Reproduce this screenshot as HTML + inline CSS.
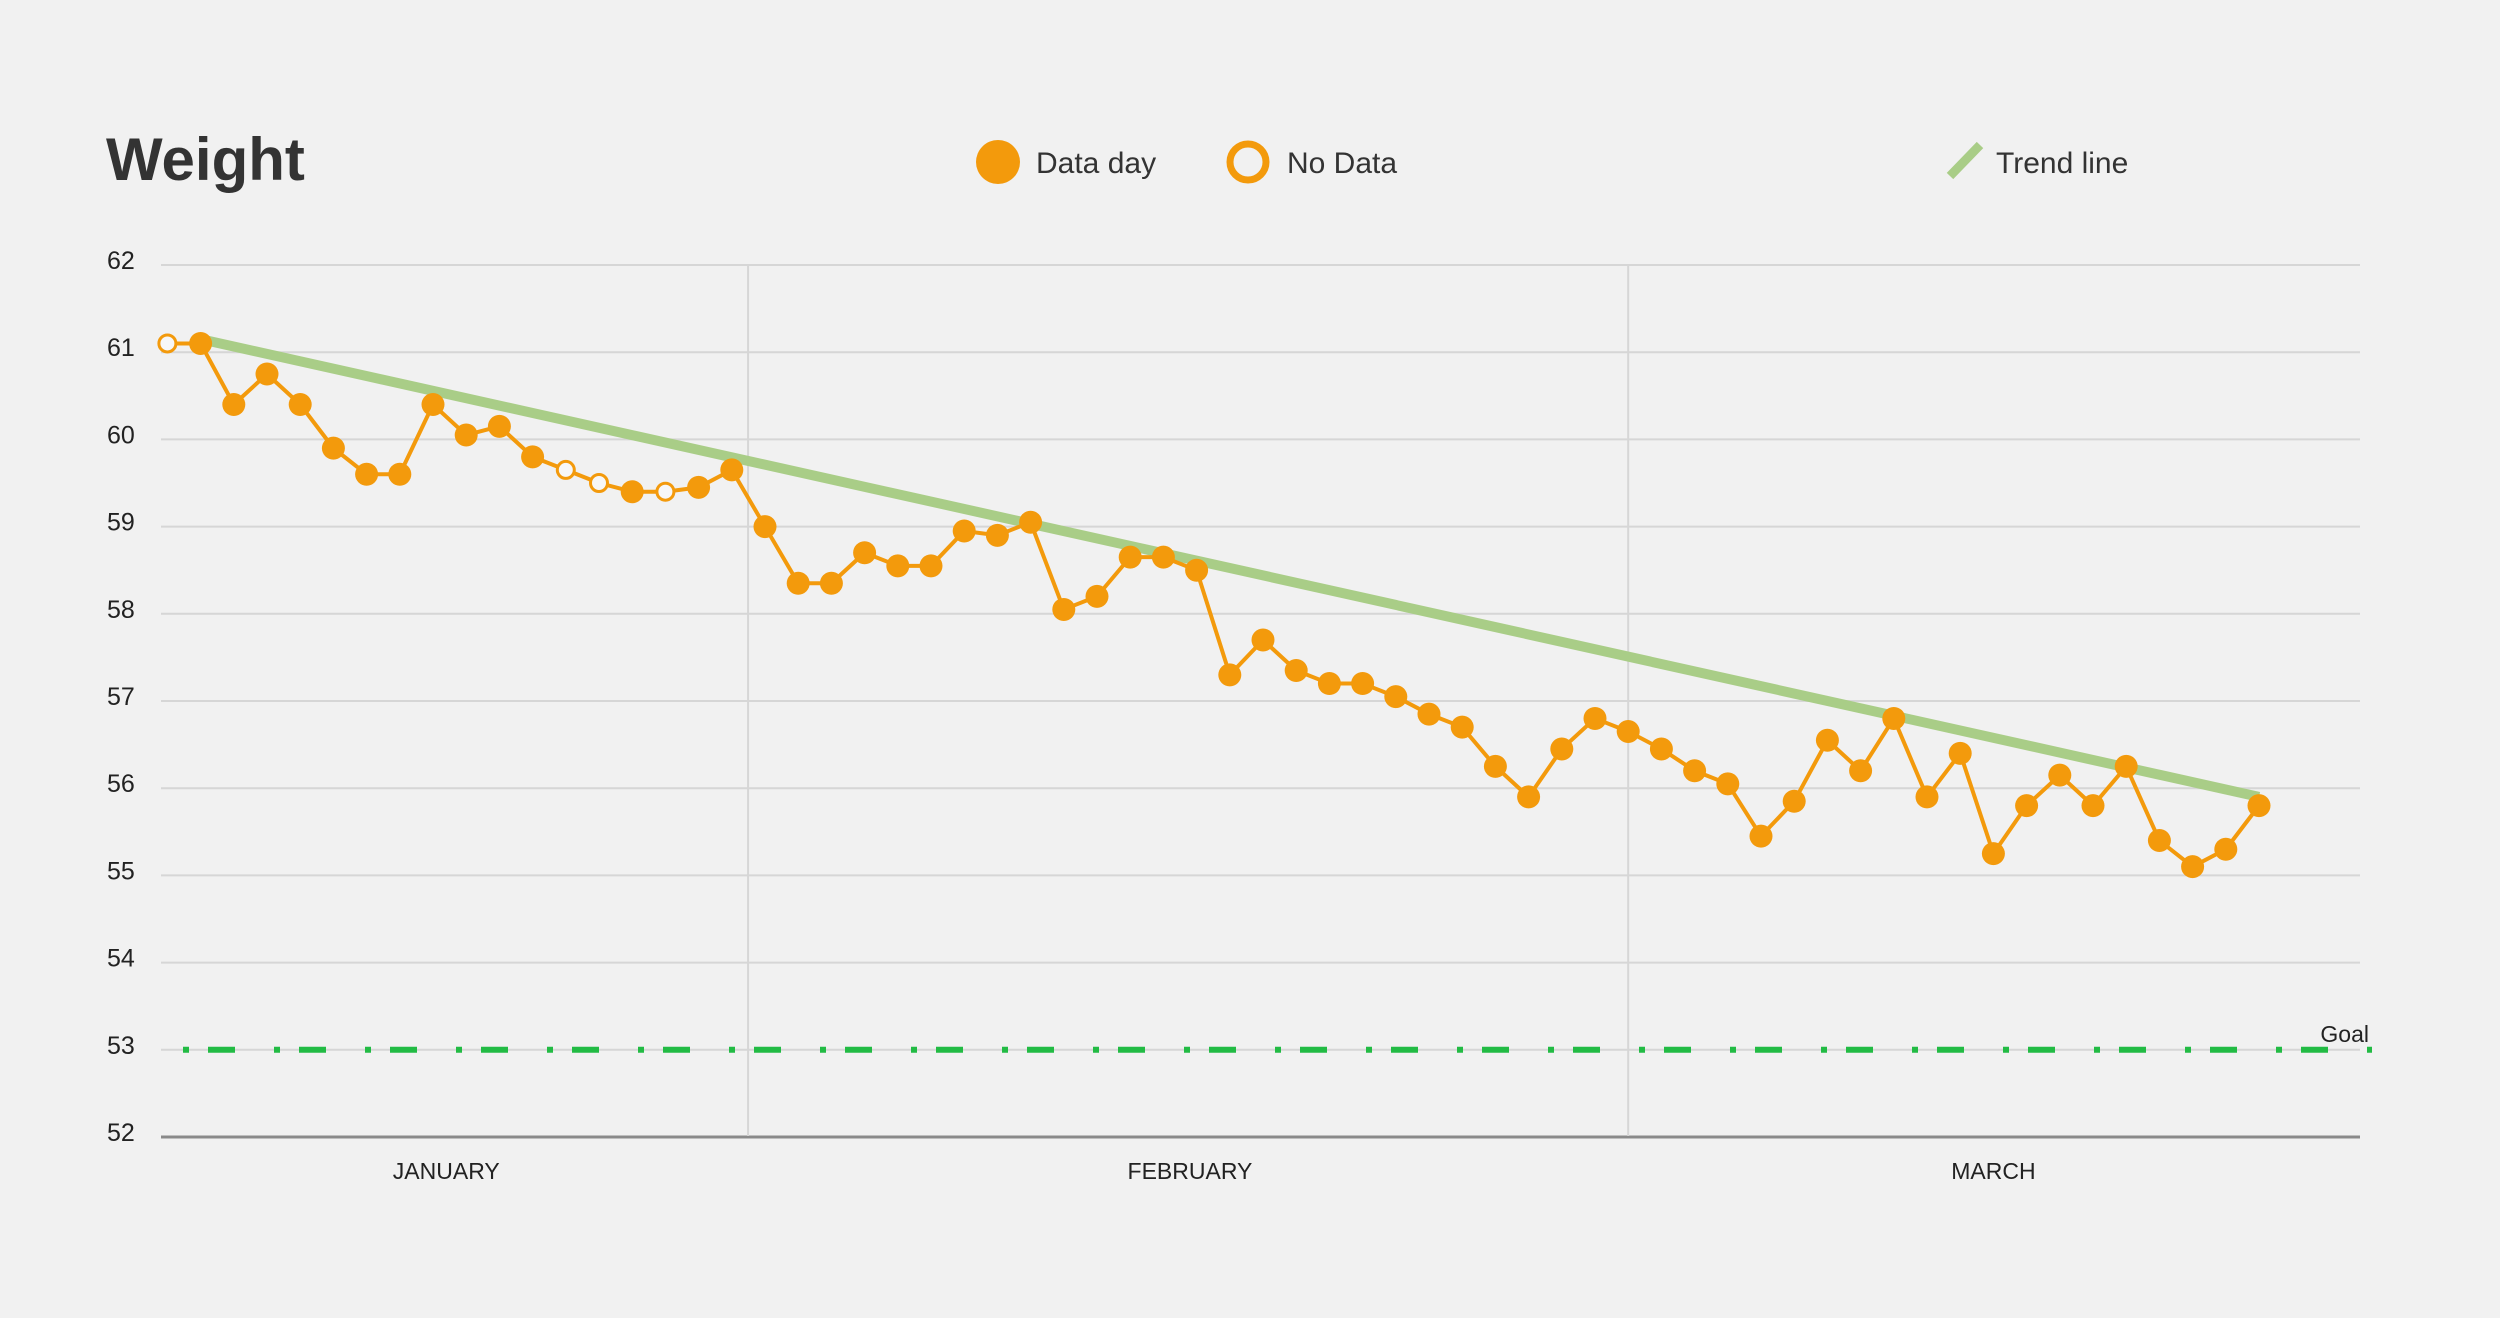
<!DOCTYPE html>
<html><head><meta charset="utf-8"><style>
html,body{margin:0;padding:0;background:#f1f1f1;}
svg{display:block;font-family:"Liberation Sans",sans-serif;}
</style></head><body>
<svg id="chart" width="2500" height="1318" viewBox="0 0 2500 1318">
<rect x="0" y="0" width="2500" height="1318" fill="#f1f1f1"/>
<text x="106" y="180" font-size="60" font-weight="bold" fill="#333">Weight</text>
<g>
 <g>
  <circle cx="998" cy="162" r="22" fill="#f39a0c"/>
  <text x="1036" y="173" font-size="30" fill="#333">Data day</text>
 </g>
 <g>
  <circle cx="1248" cy="162" r="18" fill="#f1f1f1" stroke="#f39a0c" stroke-width="7"/>
  <text x="1287" y="173" font-size="30" fill="#333">No Data</text>
 </g>
 <g>
  <line x1="1950" y1="176" x2="1980" y2="145" stroke="#a9cd87" stroke-width="9"/>
  <text x="1996" y="173" font-size="30" fill="#333">Trend line</text>
 </g>
</g>
<g id="grid"></g>
<g id="marks"></g>
</svg>
<script>
const yTicks = [52,53,54,55,56,57,58,59,60,61,62];
const months = ["JANUARY","FEBRUARY","MARCH"];
const monthCenters = [8.4, 30.8, 55.0];
const monthDividers = [17.49, 44.0];
const weights = [61.1,61.1,60.4,60.75,60.4,59.9,59.6,59.6,60.4,60.05,60.15,59.8,59.65,59.5,59.4,59.4,59.45,59.65,59.0,58.35,58.35,58.7,58.55,58.55,58.95,58.9,59.05,58.05,58.2,58.65,58.65,58.5,57.3,57.7,57.35,57.2,57.2,57.05,56.85,56.7,56.25,55.9,56.45,56.8,56.65,56.45,56.2,56.05,55.45,55.85,56.55,56.2,56.8,55.9,56.4,55.25,55.8,56.15,55.8,56.25,55.4,55.1,55.3,55.8];
const noDataDays = [0,12,13,15];
const trendStart = [1, 61.15];
const trendEnd = [63, 55.9];
const goal = [53];

const NS = "http://www.w3.org/2000/svg";
const X0 = 167.4, DX = 33.2;
function xs(d){ return X0 + DX*d; }
function ys(v){ return 1137 - (v-52)*87.2; }
function mk(tag, attrs, parent){
  const e = document.createElementNS(NS, tag);
  for (const k in attrs) e.setAttribute(k, attrs[k]);
  parent.appendChild(e); return e;
}
const grid = document.getElementById('grid');
const marks = document.getElementById('marks');

yTicks.forEach(v=>{
  const l = mk('line',{x1:161,x2:2360,y1:ys(v),y2:ys(v),stroke:v===52?'#8a8a8a':'#d6d6d6','stroke-width':v===52?3:2},grid);
  
  
  const t = mk('text',{x:107,y:ys(v)+4,'font-size':25,fill:'#222'},grid);
  t.textContent = v;
  
  
});
monthDividers.forEach(d=>{
  const l = mk('line',{x1:xs(d),x2:xs(d),y1:265,y2:1136,stroke:'#d6d6d6','stroke-width':2},grid);
  
  
});
months.forEach((m,i)=>{
  const t = mk('text',{x:xs(monthCenters[i]),y:1179,'font-size':23,fill:'#222','text-anchor':'middle'},grid);
  t.textContent = m;
  
  
});
// goal
const gl = mk('line',{x1:183,x2:2372,y1:ys(goal[0]),y2:ys(goal[0]),stroke:'#22bb44','stroke-width':6,'stroke-dasharray':'6 19 27 39'},marks);


const gt = mk('text',{x:2369,y:ys(goal[0])-8,'font-size':23,fill:'#222','text-anchor':'end'},marks);
gt.textContent = 'Goal';


// trend
const tl = mk('line',{x1:xs(trendStart[0]),y1:ys(trendStart[1]),x2:xs(trendEnd[0]),y2:ys(trendEnd[1]),stroke:'#a9cd87','stroke-width':10},marks);


// series line
const pts = weights.map((v,i)=>xs(i)+','+ys(v)).join(' ');
const pl = mk('polyline',{points:pts,fill:'none',stroke:'#f39a0c','stroke-width':4,'stroke-linejoin':'round'},marks);


weights.forEach((v,i)=>{
  const nd = noDataDays.includes(i);
  const c = mk('circle',{cx:xs(i),cy:ys(v),r:nd?8.5:11.5,fill:nd?'#f7f7f7':'#f39a0c',stroke:'#f39a0c','stroke-width':nd?3:0},marks);
  
  
});
</script>
</body></html>
